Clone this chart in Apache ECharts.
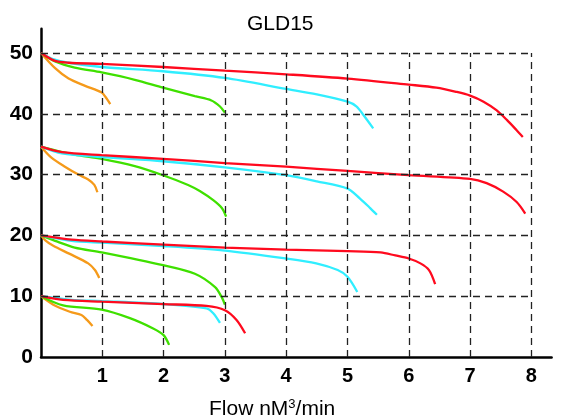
<!DOCTYPE html>
<html>
<head>
<meta charset="utf-8">
<script src="https://cdn.jsdelivr.net/npm/echarts@6/dist/echarts.min.js"></script>
<style>html,body{margin:0;padding:0;background:#fff}#c{width:563px;height:416px}</style>
</head>
<body>
<div id="c"></div>
<script>
// Tick values
const xTicks = [1, 2, 3, 4, 5, 6, 7, 8];
const yTicks = [10, 20, 30, 40, 50];

// 50 group
const orange50 = [[0,50],[0.23,47.5],[0.45,45.8],[0.72,44.6],[0.99,43.5],[1.05,42.8],[1.13,41.6]];
const green50 = [[0,50],[0.23,48.6],[0.55,47.6],[0.99,46.8],[1.53,45.6],[1.99,44.3],[2.51,42.9],[2.78,42.2],[2.92,41.2],[3.0,40.2]];
const cyan50 = [[0,50],[0.17,49.1],[0.45,48.4],[0.99,47.7],[1.99,47.0],[3.0,45.9],[4.0,44.1],[4.5,43.2],[5.0,42.0],[5.15,41.2],[5.26,39.8],[5.42,37.6]];
const red50 = [[0,50],[0.23,48.7],[0.45,48.4],[0.99,48.2],[1.99,47.7],[3.0,47.1],[4.0,46.5],[5.0,45.8],[6.0,44.8],[6.45,44.3],[6.78,43.6],[7.0,43.0],[7.22,42.0],[7.43,40.6],[7.6,39.0],[7.76,37.3],[7.86,36.2]];

// 35 group
const orange35 = [[0,34.6],[0.17,32.8],[0.39,31.3],[0.61,30.0],[0.77,29.2],[0.87,28.3],[0.92,27.1]];
const green35 = [[0,34.6],[0.23,34.0],[0.55,33.3],[0.99,32.6],[1.53,31.4],[1.99,29.9],[2.40,28.3],[2.59,27.3],[2.81,25.8],[2.95,24.5],[3.02,23.1]];
const cyan35 = [[0,34.6],[0.34,33.5],[0.99,32.9],[1.99,32.2],[3.0,31.2],[4.0,29.9],[4.5,28.9],[5.0,27.7],[5.2,26.1],[5.37,24.5],[5.48,23.4]];
const red35 = [[0,34.6],[0.34,33.7],[0.99,33.2],[1.99,32.6],[3.0,31.9],[4.0,31.3],[5.0,30.6],[6.0,29.9],[7.0,29.3],[7.27,28.6],[7.54,27.2],[7.76,25.5],[7.9,23.6]];

// 20 group
const orange20 = [[0,20],[0.07,19.2],[0.2,18.3],[0.46,17.0],[0.77,15.4],[0.88,14.3],[0.95,13.0]];
const green20 = [[0,20],[0.23,19.1],[0.55,18.0],[0.99,17.2],[1.99,15.1],[2.51,13.7],[2.84,11.5],[2.95,9.8],[3.0,8.6]];
const cyan20 = [[0,20],[0.5,19.1],[1.0,18.8],[2.0,18.25],[3.0,17.5],[4.0,16.2],[4.49,15.4],[4.84,14.3],[5.0,13.2],[5.16,10.7]];
const red20 = [[0,20],[0.5,19.3],[1.0,19.0],[2.0,18.5],[3.0,18.0],[4.0,17.65],[5.0,17.4],[5.54,17.2],[5.78,16.7],[6.0,16.2],[6.19,15.4],[6.33,14.3],[6.43,12.0]];

// 10 group
const orange10 = [[0,10],[0.2,8.6],[0.47,7.45],[0.66,6.9],[0.75,6.1],[0.84,5.1]];
const green10 = [[0,10],[0.36,8.5],[0.99,7.8],[1.45,6.4],[1.83,4.7],[2.0,3.6],[2.09,2.0]];
const cyan10 = [[0,10],[0.5,9.4],[0.99,9.2],[2.0,8.7],[2.7,8.0],[2.81,7.2],[2.92,5.6]];
const red10 = [[0,10],[0.36,9.4],[0.99,9.1],[2.0,8.7],[2.7,8.4],[3.0,7.7],[3.19,6.1],[3.33,3.9]];

const COLORS = { orange: '#f59a1a', green: '#3fe000', cyan: '#30eeff', red: '#ff0a1e' };

const curves = [
  ['orange', orange50], ['orange', orange35], ['orange', orange20], ['orange', orange10],
  ['green', green50], ['green', green35], ['green', green20], ['green', green10],
  ['cyan', cyan50], ['cyan', cyan35], ['cyan', cyan20], ['cyan', cyan10],
  ['red', red50], ['red', red35], ['red', red20], ['red', red10]
];

const gridLines = xTicks.map(x => [{ coord: [x, 0] }, { coord: [x, 50] }])
  .concat(yTicks.map(y => [{ coord: [0, y] }, { coord: [8, y] }]));

const series = [{
  type: 'line', data: [], z: 1, silent: true,
  markLine: {
    silent: true, animation: false, symbol: ['none', 'none'],
    label: { show: false },
    lineStyle: { type: [7, 5], color: '#222', width: 1.3 },
    emphasis: { disabled: true },
    data: gridLines
  }
}].concat(curves.map(([c, d]) => ({
  type: 'line', data: d, z: 2, smooth: 0.3, showSymbol: false, symbol: 'none',
  lineStyle: { color: COLORS[c], width: 2.3 }, itemStyle: { color: COLORS[c] },
  animation: false, silent: true
})));

const chart = echarts.init(document.getElementById('c'), null, { renderer: 'canvas' });
chart.setOption({
  backgroundColor: '#fff',
  animation: false,
  title: [
    { text: 'GLD15', left: 242, top: 9, textStyle: { fontFamily: 'Liberation Sans, Arial', fontSize: 21, fontWeight: 'normal', color: '#000' } },
    { text: '{a|Flow nM}{s|3}{a|/min}', left: 204, top: 393,
      textStyle: { fontWeight: 'normal', rich: {
        a: { fontFamily: 'Liberation Sans, Arial', fontSize: 21, fontWeight: 'normal', color: '#000' },
        s: { fontFamily: 'Liberation Sans, Arial', fontSize: 13, fontWeight: 'normal', color: '#000', verticalAlign: 'top', padding: [0, 0, 10, 0] }
      } } }
  ],
  grid: { left: 41, right: 11.4, top: 28.7, bottom: 59, containLabel: false },
  xAxis: {
    type: 'value', min: 0, max: 8.33, interval: 1,
    axisLine: { show: true, onZero: false, lineStyle: { color: '#000', width: 2.5 } },
    axisTick: { show: false }, splitLine: { show: false },
    axisLabel: { margin: 9, fontFamily: 'Liberation Sans, Arial', fontSize: 20, fontWeight: 'bold', color: '#000',
      formatter: v => (v > 0 && v <= 8 && Math.abs(v - Math.round(v)) < 1e-6) ? String(Math.round(v)) : '' }
  },
  yAxis: {
    type: 'value', min: 0, max: 54, interval: 10,
    axisLine: { show: true, onZero: false, lineStyle: { color: '#000', width: 2.5 } },
    axisTick: { show: false }, splitLine: { show: false },
    axisLabel: { margin: 8, fontFamily: 'Liberation Sans, Arial', fontSize: 21, fontWeight: 'bold', color: '#000',
      formatter: v => (v % 10 === 0 && v <= 50) ? String(v) : '' }
  },
  series: series
});
</script>
</body>
</html>
